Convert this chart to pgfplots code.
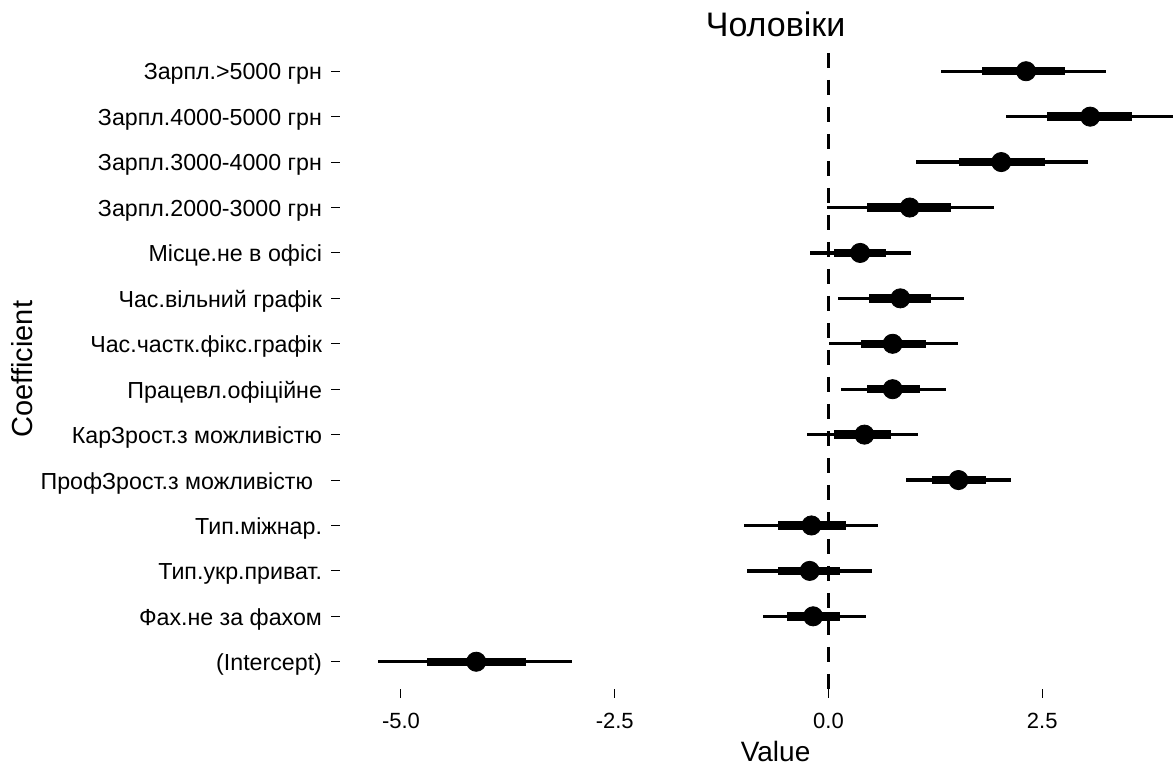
\documentclass[border=0pt]{standalone}
\usepackage{fontspec}
\setmainfont{Liberation Sans}
\usepackage{pgfplots}
\usepackage{pgfplotstable}
\pgfplotsset{compat=1.18}

% row est lo hi lo1 hi1  (thin = lo/hi, thick = lo1/hi1)
\pgfplotstableread{
row est   lo    hi    lo1   hi1
1  -4.12 -5.27 -3.00 -4.69 -3.54
2  -0.18 -0.77  0.44 -0.48  0.13
3  -0.22 -0.95  0.51 -0.59  0.13
4  -0.20 -0.99  0.58 -0.59  0.20
5   1.52  0.91  2.13  1.21  1.84
6   0.42 -0.25  1.05  0.06  0.73
7   0.75  0.15  1.37  0.45  1.07
8   0.75  0.01  1.52  0.38  1.14
9   0.84  0.11  1.58  0.47  1.20
10  0.37 -0.22  0.96  0.06  0.67
11  0.95 -0.02  1.94  0.45  1.43
12  2.02  1.02  3.04  1.53  2.53
13  3.06  2.08  4.03  2.56  3.55
14  2.31  1.32  3.25  1.80  2.77
}\coefs

\begin{document}
\begin{tikzpicture}
\useasboundingbox (0,0) rectangle (588pt,384.5pt);
\begin{axis}[
    at={(170pt,40pt)}, anchor=south west,
    scale only axis, width=418pt, height=322.5pt,
    xmin=-5.713, xmax=4.064, ymin=0.4, ymax=14.6,
    axis line style={draw=none},
    xtick={-5,-2.5,0,2.5}, xticklabels={-5.0,-2.5,0.0,2.5},
    ytick={1,...,14},
    yticklabels={(Intercept), Фах.не за фахом, Тип.укр.приват., Тип.міжнар.,
        {ПрофЗрост.з можливістю\kern4.5pt}, КарЗрост.з можливістю, Працевл.офіційне,
        Час.частк.фікс.графік, Час.вільний графік, Місце.не в офісі,
        Зарпл.2000-3000 грн, Зарпл.3000-4000 грн, Зарпл.4000-5000 грн, Зарпл.>5000 грн},
    xtick pos=bottom, ytick pos=left,
    tick align=outside, major tick length=4.5pt,
    tick style={black, line width=0.5pt},
    xticklabel style={font=\fontsize{11}{13}\selectfont, black, yshift=-4pt},
    yticklabel style={font=\fontsize{11.6}{13}\selectfont, black, xshift=-1pt, yshift=-1.5pt},
    every axis title shift=0pt,
    title={Чоловіки},
    title style={at={(0.521,1)}, anchor=base, yshift=3.5pt, font=\fontsize{17}{19}\selectfont},
    xlabel={Value},
    xlabel style={at={(axis description cs:0.521,0)}, anchor=base, yshift=-36.5pt, font=\fontsize{14}{16}\selectfont},
    ylabel={Coefficient},
    ylabel style={at={(axis description cs:0,0.496)}, anchor=base, yshift=153.5pt, font=\fontsize{14.5}{16}\selectfont},
]
\addplot[black, line width=1.5pt, dash pattern=on 7.5pt off 6pt, dash phase=-4.5pt] coordinates {(0,14.6) (0,0.4)};
\addplot[only marks, mark=none,
    error bars/.cd, x dir=both, x explicit, error mark=none,
    error bar style={black, line width=1.7pt}]
    table[x=est, y=row, x error plus expr=\thisrow{hi}-\thisrow{est}, x error minus expr=\thisrow{est}-\thisrow{lo}] {\coefs};
\addplot[only marks, mark=none,
    error bars/.cd, x dir=both, x explicit, error mark=none,
    error bar style={black, line width=4.2pt}]
    table[x=est, y=row, x error plus expr=\thisrow{hi1}-\thisrow{est}, x error minus expr=\thisrow{est}-\thisrow{lo1}] {\coefs};
\addplot[only marks, mark=*, mark size=4.8pt, mark options={fill=black, draw=black}]
    table[x=est, y=row] {\coefs};
\end{axis}
\end{tikzpicture}
\end{document}
